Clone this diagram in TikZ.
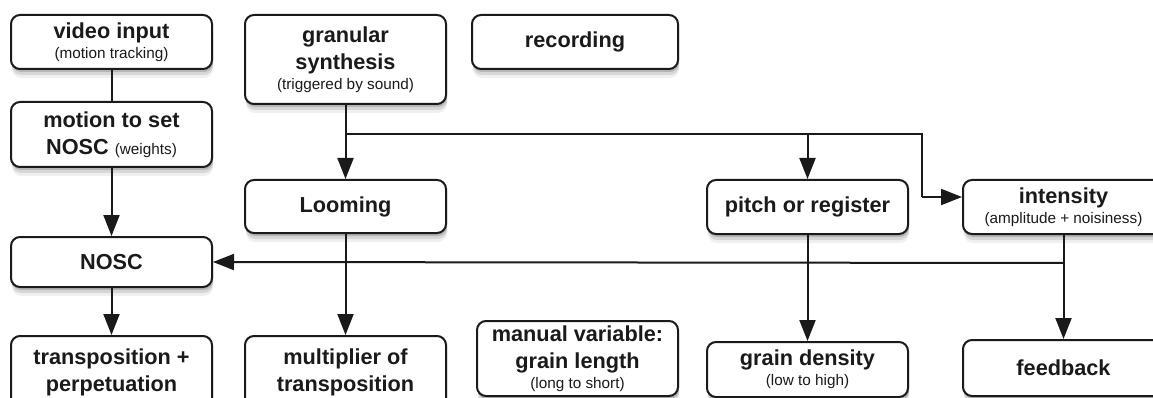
\documentclass[tikz,border=0pt]{standalone}
\usepackage{fontspec}
\setmainfont{Liberation Sans}
\usetikzlibrary{arrows.meta,shadows}
\definecolor{ink}{HTML}{1A1A1A}
\newcommand{\sm}{\fontsize{15.3}{18}\selectfont\mdseries}
\tikzset{
  box/.style={draw=ink, line width=2pt, rounded corners=9pt, fill=white,
    minimum width=201pt, inner sep=2pt, align=center, text=ink,
    font=\fontsize{21.7}{27}\selectfont\bfseries,
    general shadow={shadow yshift=-3pt, shadow xshift=1pt, fill=black, opacity=0.15},
    general shadow={shadow yshift=-6pt, shadow xshift=1pt, fill=black, opacity=0.10},
    general shadow={shadow yshift=-9pt, shadow xshift=1pt, fill=black, opacity=0.06}},
  conn/.style={draw=ink, line width=2pt},
  arr/.style={conn, -{Triangle[length=21pt, width=16pt]}}
}
\begin{document}
\begin{tikzpicture}[x=1pt, y=-1pt]
\useasboundingbox (0,0) rectangle (1153,398);
\clip (0,0) rectangle (1153,398);
\fill[white] (0,0) rectangle (1153,398);
% nodes
\node[box, minimum height=54pt] (vid) at (111.5,42) {video input\\[-7pt]{\sm (motion tracking)}};
\node[box, minimum height=65pt] (mot) at (111.5,134.5) {motion to set\\NOSC {\sm (weights)}};
\node[box, minimum height=89pt] (gran) at (345.5,59.5) {granular\\synthesis\\[-7pt]{\sm (triggered by sound)}};
\node[box, minimum height=54pt, minimum width=206pt] (rec) at (575,42) {recording};
\node[box, minimum height=53pt] (loom) at (345.5,206.5) {Looming};
\node[box, minimum height=54pt] (pitch) at (807.5,207) {pitch or register};
\node[box, minimum height=54pt] (inten) at (1063.5,207) {intensity\\[-7pt]{\sm (amplitude + noisiness)}};
\node[box, minimum height=50pt] (nosc) at (111.5,262) {NOSC};
\node[box, minimum height=72pt] (trans) at (111.5,372) {transposition +\\perpetuation};
\node[box, minimum height=72pt] (mult) at (345.5,372) {multiplier of\\transposition};
\node[box, minimum height=75pt] (man) at (577.5,358.5) {manual variable:\\grain length\\[-7pt]{\sm (long to short)}};
\node[box, minimum height=55pt] (dens) at (807.5,369.5) {grain density\\[-7pt]{\sm (low to high)}};
\node[box, minimum height=56pt] (feed) at (1063.5,368) {feedback};
% junctions
\coordinate (j1) at (345.5,134);
\coordinate (j2) at (922,134);
\coordinate (j3) at (922,197);
\coordinate (j4) at (1063.5,263);
% connectors
\draw[conn] (vid) -- (mot);
\draw[arr] (mot) -- (nosc);
\draw[arr] (gran) -- (loom);
\draw[conn] (j1) -- (j2) -- (j3);
\draw[arr] (j3) -- (j3 -| inten.west);
\draw[arr] (pitch.north |- j1) -- (pitch.north);
\draw[arr] (inten) -- (feed);
\draw[arr] (j4) -- (nosc.east);
\draw[arr] (loom) -- (mult);
\draw[arr] (pitch) -- (dens);
\draw[arr] (nosc) -- (trans);
\end{tikzpicture}
\end{document}
